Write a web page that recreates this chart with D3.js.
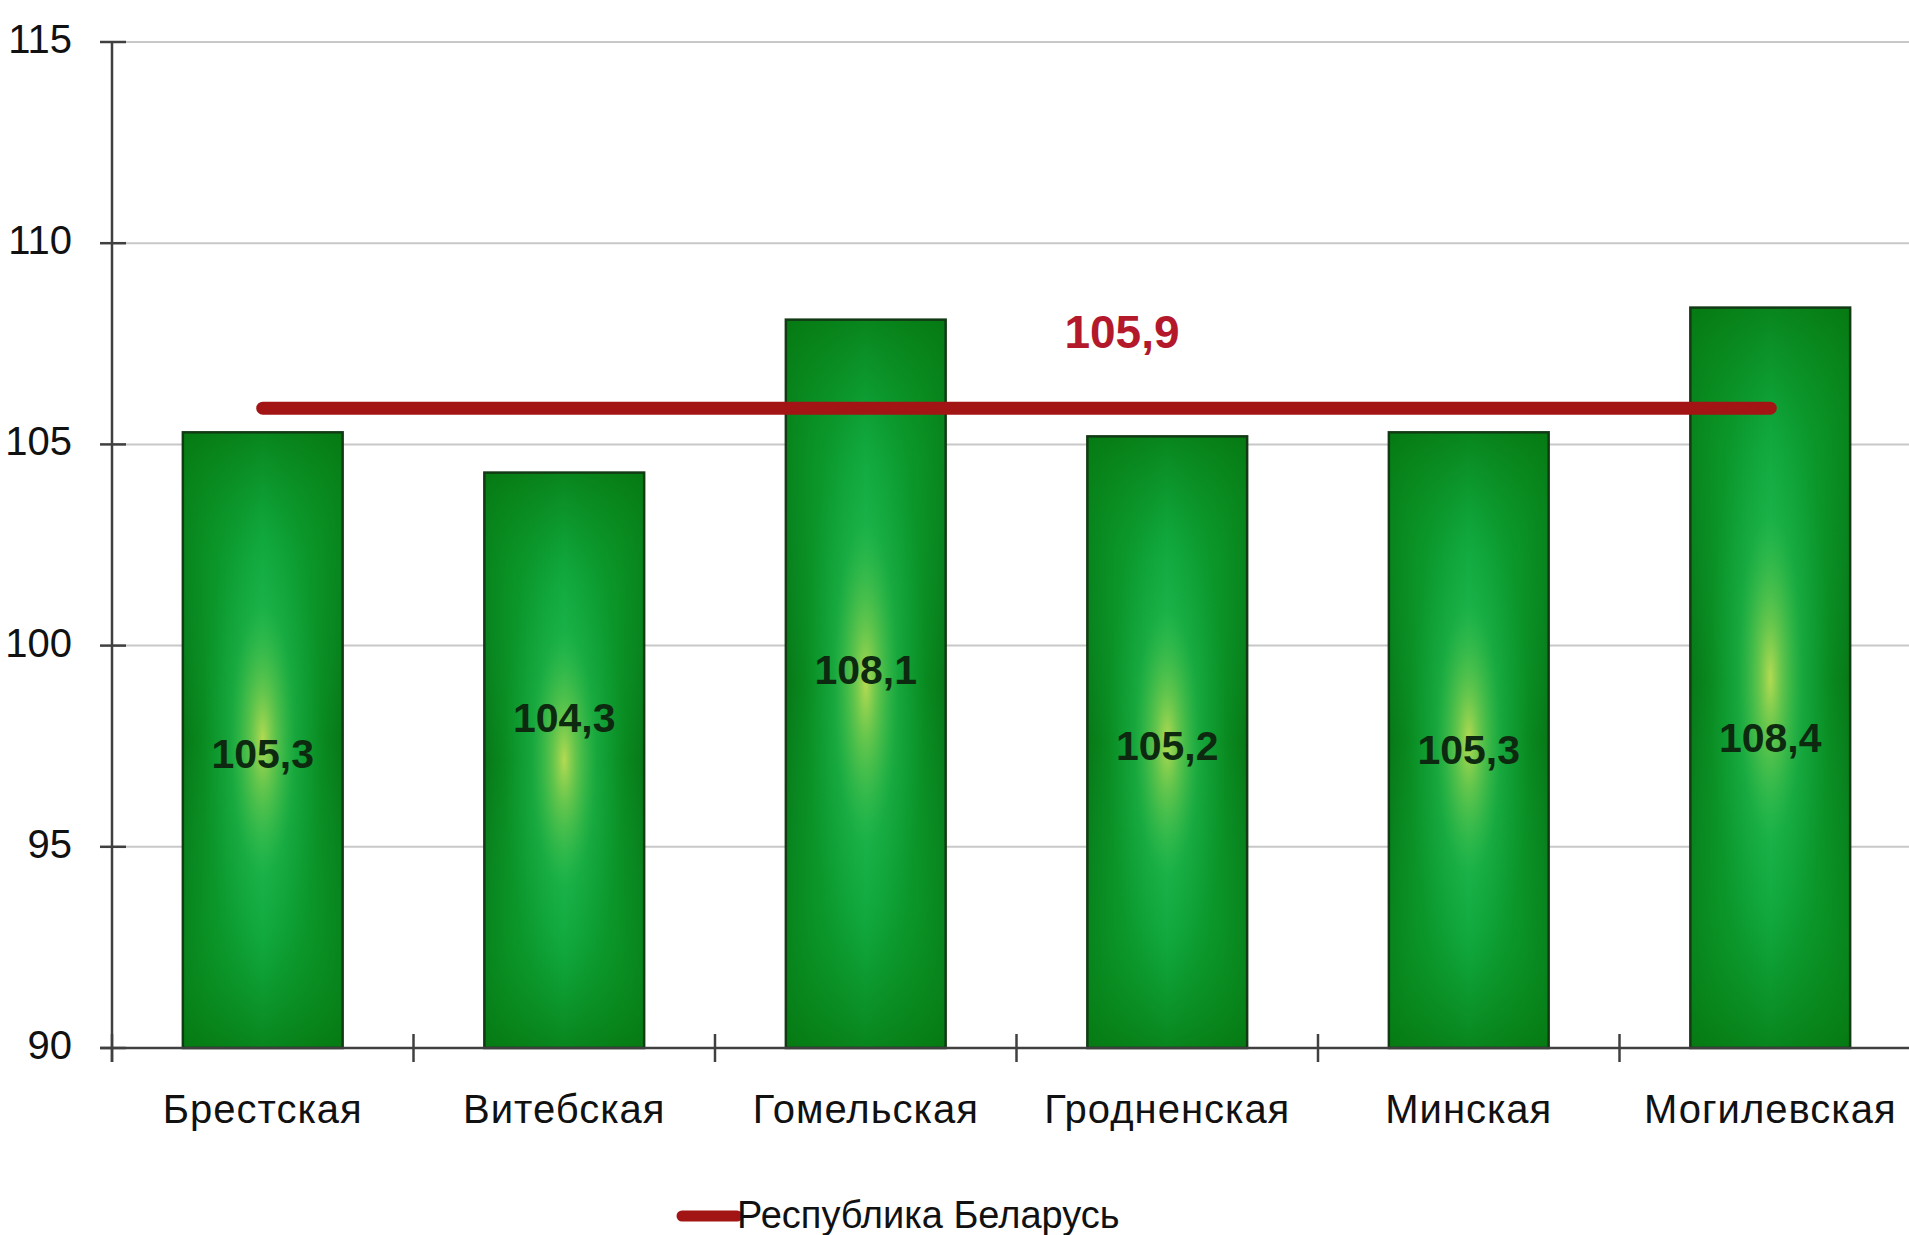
<!DOCTYPE html>
<html><head><meta charset="utf-8">
<script src="https://cdn.jsdelivr.net/npm/d3@7"></script>
<style>html,body{margin:0;padding:0;background:#fff;overflow:hidden}</style>
</head><body>
<svg id="chart" width="1909" height="1235"></svg>
<script>
const categories = ["Брестская","Витебская","Гомельская","Гродненская","Минская","Могилевская"];
const values = [105.3, 104.3, 108.1, 105.2, 105.3, 108.4];
const valueLabels = ["105,3","104,3","108,1","105,2","105,3","108,4"];
const labelAt = [97.3, 98.2, 99.4, 97.5, 97.4, 97.7];
const republicValue = 105.9;
const republicLabel = "105,9";
const republicName = "Республика Беларусь";
const yTicks = [90, 95, 100, 105, 110, 115];

(function(){
const svg = d3.select("#chart");
const W = 1909, H = 1235;
const mLeft = 112, mTop = 42, mBottom = 1048;
const step = 301.5;

const x = d3.scaleBand().domain(categories)
  .range([mLeft, mLeft + step * categories.length])
  .paddingInner(0.47).paddingOuter(0.235);
const y = d3.scaleLinear().domain([90, 115]).range([mBottom, mTop]);

const defs = svg.append("defs");
const hg = defs.append("linearGradient").attr("id","hg").attr("x1","0").attr("x2","1").attr("y1","0").attr("y2","0");
[[0,"#077816"],[0.15,"#0a8d22"],[0.5,"#13b24a"],[0.85,"#0a8d22"],[1,"#077816"]].forEach(s=>hg.append("stop").attr("offset",s[0]).attr("stop-color",s[1]));
const vg = defs.append("linearGradient").attr("id","vg").attr("x1","0").attr("x2","0").attr("y1","0").attr("y2","1");
[[0,"#067a12",0.8],[0.2,"#0a9a2a",0.35],[0.5,"#12b048",0],[0.8,"#0a9a2a",0.35],[1,"#067a12",0.8]].forEach(s=>vg.append("stop").attr("offset",s[0]).attr("stop-color",s[1]).attr("stop-opacity",s[2]));
const rg = defs.append("radialGradient").attr("id","rg").attr("cx","0.5").attr("cy","0.5").attr("r","0.5")
  .attr("gradientTransform","translate(0.5,0.5) scale(0.75,0.8) translate(-0.5,-0.5)");
[[0,"#b4da52",1],[0.2,"#7ccc4e",0.75],[0.55,"#2cbc52",0.3],[1,"#12b048",0]].forEach(s=>rg.append("stop").attr("offset",s[0]).attr("stop-color",s[1]).attr("stop-opacity",s[2]));

// gridlines
svg.append("g").selectAll("line").data(yTicks.filter(d=>d>90)).join("line")
  .attr("x1", mLeft).attr("x2", W).attr("y1", d=>y(d)).attr("y2", d=>y(d))
  .attr("stroke", "#c8c8c8").attr("stroke-width", 2);

// bars
const bars = svg.append("g").selectAll("g").data(categories).join("g");
["url(#hg)","url(#vg)","url(#rg)"].forEach(f => {
  bars.append("rect").attr("x", d=>x(d)).attr("width", x.bandwidth())
    .attr("y", (d,i)=>y(values[i])).attr("height", (d,i)=>y(90)-y(values[i]))
    .attr("fill", f);
});
bars.append("rect").attr("x", d=>x(d)).attr("width", x.bandwidth())
  .attr("y", (d,i)=>y(values[i])).attr("height", (d,i)=>y(90)-y(values[i]))
  .attr("fill","none").attr("stroke","#123a14").attr("stroke-width",2.5);
bars.append("text").attr("x", d=>x(d)+x.bandwidth()/2).attr("y", (d,i)=>y(labelAt[i]))
  .attr("text-anchor","middle").attr("dominant-baseline","central")
  .attr("font-family","Liberation Sans, Arial, sans-serif").attr("font-weight","bold")
  .attr("font-size",41).attr("fill","#0d2a10")
  .text((d,i)=>valueLabels[i]);

// y axis
const yAxis = svg.append("g");
yAxis.append("line").attr("x1",mLeft).attr("x2",mLeft).attr("y1",y(115)).attr("y2",y(90)+14)
  .attr("stroke","#404040").attr("stroke-width",2.5);
yAxis.selectAll(".t").data(yTicks).join("line").attr("class","t")
  .attr("x1",mLeft-12).attr("x2",mLeft+14).attr("y1",d=>y(d)).attr("y2",d=>y(d))
  .attr("stroke","#404040").attr("stroke-width",2.5);
yAxis.selectAll("text").data(yTicks).join("text")
  .attr("x",72).attr("y",d=>y(d)-3).attr("text-anchor","end").attr("dominant-baseline","central")
  .attr("font-family","Liberation Sans, Arial, sans-serif").attr("font-size",40).attr("fill","#111")
  .text(d=>d);

// x axis
const xAxis = svg.append("g");
xAxis.append("line").attr("x1",mLeft-12).attr("x2",W).attr("y1",mBottom).attr("y2",mBottom)
  .attr("stroke","#404040").attr("stroke-width",2.5);
const boundaries = d3.range(categories.length).map(i => x(categories[i]) - x.step()*x.paddingOuter());
xAxis.selectAll(".t").data(boundaries).join("line").attr("class","t")
  .attr("x1",d=>d).attr("x2",d=>d).attr("y1",mBottom-14).attr("y2",mBottom+14)
  .attr("stroke","#404040").attr("stroke-width",2.5);
xAxis.selectAll("text").data(categories).join("text")
  .attr("x",d=>x(d)+x.bandwidth()/2).attr("y",1123).attr("text-anchor","middle")
  .attr("font-family","Liberation Sans, Arial, sans-serif").attr("font-size",40).attr("letter-spacing",1)
  .attr("fill","#111").text(d=>d);

// republic line
const xs = x(categories[0]) + x.bandwidth()/2, xe = x(categories[categories.length-1]) + x.bandwidth()/2;
svg.append("line").attr("x1",xs).attr("x2",xe).attr("y1",y(republicValue)).attr("y2",y(republicValue))
  .attr("stroke","#a31515").attr("stroke-width",13).attr("stroke-linecap","round");
svg.append("text").attr("x", x(categories[3]) + x.bandwidth()/2 - 0.15*x.step()).attr("y", y(republicValue)-60)
  .attr("text-anchor","middle").attr("font-family","Liberation Sans, Arial, sans-serif")
  .attr("font-weight","bold").attr("font-size",46).attr("fill","#b3192b").text(republicLabel);

// legend
svg.append("line").attr("x1",682).attr("x2",737).attr("y1",1216).attr("y2",1216)
  .attr("stroke","#a31515").attr("stroke-width",11).attr("stroke-linecap","round");
svg.append("text").attr("x",737).attr("y",1228).attr("font-family","Liberation Sans, Arial, sans-serif")
  .attr("font-size",38).attr("fill","#111").text(republicName);
})();
</script>
</body></html>
